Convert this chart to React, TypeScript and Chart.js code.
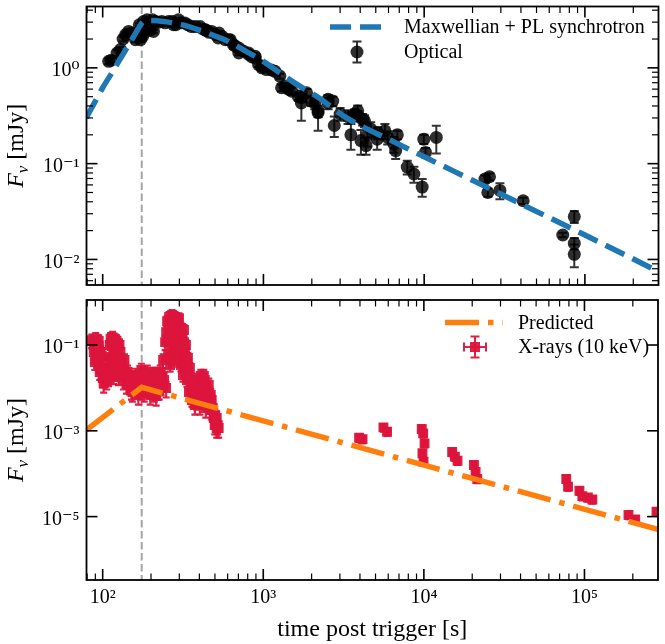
import React, { useEffect, useRef } from 'react';
import { Chart, registerables } from 'chart.js';
Chart.register(...registerables);

const FONT = "'Liberation Serif', 'DejaVu Serif', 'Times New Roman', serif";

// ---------- axes ----------
const X_MIN = 79.3;
const X_MAX = 2.87e5;
const X_MAJOR = [1e2, 1e3, 1e4, 1e5];
const TOP_Y_MIN = 5.41e-3;
const TOP_Y_MAX = 4.37;
const TOP_Y_MAJOR = [1e-2, 1e-1, 1e0];
const BOT_Y_MIN = 3.33e-7;
const BOT_Y_MAX = 1.12;
const BOT_Y_MAJOR = [1e-5, 1e-3, 1e-1];
const X_TITLE = 'time post trigger [s]';
const Y_TITLE_MAIN = 'F';
const Y_TITLE_SUB = 'ν';
const Y_TITLE_UNIT = ' [mJy]';
const VLINE_T = 175;

// ---------- top panel: model ----------
const MODEL_LABEL = 'Maxwellian + PL synchrotron';
const MODEL_T = [79, 90, 100, 117, 135, 150, 165, 180, 200, 250, 300, 400, 500, 600, 800, 1000, 1250, 1600, 2200, 3200, 4250, 6000, 10000, 20000, 40000, 100000, 200000, 300000];
const MODEL_F = [0.30, 0.45, 0.62, 0.95, 1.42, 1.9, 2.5, 3.05, 3.12, 3.02, 2.87, 2.48, 2.15, 1.9, 1.45, 1.17, 0.9, 0.68, 0.49, 0.31, 0.238, 0.18, 0.118, 0.067, 0.038, 0.018, 0.0101, 0.0072];

// ---------- top panel: optical ----------
const OPT_LABEL = 'Optical';
const OPT_T = [109, 113, 123, 129, 134, 139, 145, 152, 160, 166, 172, 169, 177, 180, 186, 189, 198, 204, 207, 212, 222, 233, 245, 257, 271, 276, 285, 296, 310, 325, 340, 358, 378, 403, 420, 436, 442, 460, 476, 500, 523, 529, 553, 580, 608, 621, 650, 670, 703, 703, 750, 809, 809, 850, 888, 888, 933, 978, 978, 1045, 1120, 1180, 1264, 1297, 1360, 1430, 1500, 1650, 1722, 1722, 1855, 1985, 2085, 2188, 2188, 2525, 2525, 2700, 2760, 3000, 3360, 3500, 3700, 3860, 3860, 4040, 4140, 4250, 4350, 4450, 4650, 5100, 5130, 5700, 5930, 6480, 6650, 6810, 7850, 8630, 9720, 9950, 10190, 11900, 23900, 25500, 24900, 29600, 41300, 72800, 85900, 85900, 85900];
const OPT_F = [1.17, 1.2, 1.43, 1.55, 2.0, 2.22, 2.4, 2.31, 1.97, 2.1, 1.97, 2.82, 2.13, 3.05, 2.4, 3.18, 2.5, 3.18, 2.4, 3.05, 3.0, 3.05, 2.95, 3.05, 3.05, 2.82, 2.82, 3.18, 2.95, 2.94, 2.8, 2.7, 2.7, 2.7, 2.55, 2.5, 2.45, 2.35, 2.4, 2.25, 2.05, 2.31, 2.13, 1.97, 1.97, 1.97, 1.75, 1.68, 1.61, 1.43, 1.5, 1.43, 1.38, 1.3, 1.32, 1.27, 1.08, 1.04, 1.0, 0.96, 0.95, 0.92, 0.82, 0.62, 0.645, 0.6, 0.57, 0.5, 0.43, 0.49, 0.55, 0.45, 0.43, 0.34, 0.355, 0.43, 0.47, 0.45, 0.25, 0.33, 0.31, 0.2, 0.33, 0.355, 0.315, 0.174, 0.29, 0.28, 0.154, 0.2, 0.23, 0.18, 0.21, 0.22, 0.188, 0.16, 0.137, 0.2, 0.092, 0.078, 0.057, 0.18, 0.131, 0.188, 0.069, 0.073, 0.05, 0.0525, 0.041, 0.018, 0.028, 0.0147, 0.0113];
const OPT_ERR = [0.08, 0.08, 0.1, 0.1, 0.12, 0.12, 0.12, 0.12, 0.12, 0.12, 0.12, 0.1, 0.1, 0.1, 0.1, 0.1, 0.1, 0.1, 0.1, 0.1, 0.1, 0.1, 0.1, 0.1, 0.1, 0.1, 0.1, 0.1, 0.1, 0.1, 0.1, 0.1, 0.1, 0.1, 0.1, 0.1, 0.1, 0.1, 0.1, 0.1, 0.1, 0.1, 0.1, 0.1, 0.1, 0.1, 0.1, 0.1, 0.08, 0.08, 0.08, 0.08, 0.08, 0.08, 0.08, 0.08, 0.06, 0.06, 0.06, 0.05, 0.05, 0.05, 0.05, 0.05, 0.05, 0.05, 0.05, 0.04, 0.15, 0.04, 0.05, 0.05, 0.06, 0.12, 0.05, 0.06, 0.05, 0.05, 0.06, 0.05, 0.05, 0.06, 0.04, 0.05, 0.04, 0.05, 0.04, 0.04, 0.03, 0.05, 0.04, 0.04, 0.03, 0.04, 0.03, 0.03, 0.025, 0.02, 0.015, 0.015, 0.012, 0.02, 0.015, 0.06, 0.006, 0.006, 0.005, 0.01, 0.003, 0.001, 0.004, 0.002, 0.003];

// ---------- bottom panel: predicted ----------
const PRED_LABEL = 'Predicted';
const PRED_T = [79, 175, 3680, 300000];
const PRED_F = [1.04e-3, 0.0103, 4.45e-4, 4.8e-6];

// ---------- bottom panel: X-rays (WT light curve, 85-530 s) ----------
const XRAY_LABEL = 'X-rays (10 keV)';
const XRAY_WT_T = [85.5, 88.0, 90.5, 91.8, 94.5, 95.8, 97.2, 100, 101.4, 104.4, 105.9, 108.9, 110.5, 112.0, 115.3, 116.9, 120.3, 122.0, 123.8, 127.3, 129.1, 131.0, 134.8, 136.7, 140.6, 144.7, 146.8, 151.0, 155.4, 159.9, 162.2, 166.8, 169.2, 174.1, 176.6, 181.6, 184.3, 189.5, 195.0, 197.8, 203.5, 209.4, 212.4, 218.5, 224.8, 228.0, 234.6, 237.9, 244.8, 248.4, 251.9, 259.2, 262.9, 270.5, 274.4, 282.3, 286.4, 294.5, 298.8, 307.4, 311.8, 320.8, 325.4, 334.8, 339.6, 349.4, 354.4, 364.6, 375.1, 380.5, 391.4, 397.1, 408.5, 414.4, 426.4, 432.5, 444.9, 457.8, 464.2, 477.5, 491.5, 498.4, 512.9,
  89.3, 91.8, 95.8, 98.6, 101.4, 104.4, 107.4, 108.9, 88.0, 90.5, 93.1, 94.5, 97.2,
  113.6, 115.3, 118.6, 120.3, 123.8, 125.5, 129.1, 132.9, 136.7, 138.7, 125.5, 116.9,
  142.7, 148.9, 153.2, 157.6, 164.4, 171.7, 179.1, 186.9, 192.3, 200.7, 206.5, 215.4, 221.6, 231.3, 241.4, 248.4,
  251.9, 255.6, 259.2, 262.9, 266.7, 270.5, 274.4, 278.3, 282.3, 286.4, 290.4, 294.5, 298.8, 303.1, 307.4, 311.8, 316.2, 320.8, 325.4, 330.0, 334.8, 339.6, 344.4, 349.4, 354.4, 359.4, 364.6, 369.8,
  385.9, 397.1, 402.8, 414.4, 420.3, 432.5, 438.5, 451.2, 457.8, 470.9, 477.5, 484.4, 498.4, 505.5, 512.9, 520.0, 527.6];
const XRAY_WT_F = [0.13, 0.1, 0.14, 0.0687, 0.125, 0.0447, 0.0261, 0.017, 0.013, 0.0235, 0.0153, 0.0447, 0.1, 0.14, 0.15, 0.0765, 0.13, 0.125, 0.0585, 0.1, 0.0402, 0.0235, 0.0153, 0.02, 0.0123, 0.0179, 0.0117, 0.00893, 0.0153, 0.02, 0.00995, 0.00683, 0.0153, 0.0261, 0.0111, 0.00802, 0.017, 0.0235, 0.00995, 0.00683, 0.0153, 0.00802, 0.0211, 0.0123, 0.00893, 0.0235, 0.0189, 0.0447, 0.117, 0.2, 0.36, 0.45, 0.33, 0.5, 0.4, 0.45, 0.31, 0.38, 0.42, 0.25, 0.17, 0.117, 0.0687, 0.0402, 0.0235, 0.0153, 0.00893, 0.00582, 0.00399, 0.00647, 0.00893, 0.0153, 0.0189, 0.0111, 0.0189, 0.00893, 0.00582, 0.00421, 0.00582, 0.00305, 0.00199, 0.00137, 0.00116,
  0.0402, 0.0447, 0.0235, 0.0554, 0.0235, 0.017, 0.0261, 0.017, 0.0687, 0.0851, 0.0554, 0.0948, 0.0687,
  0.0948, 0.0447, 0.0261, 0.0554, 0.1, 0.0324, 0.0687, 0.0291, 0.0447, 0.0235, 0.0179, 0.0189,
  0.0235, 0.017, 0.00802, 0.0111, 0.017, 0.00893, 0.0153, 0.00995, 0.0153, 0.0111, 0.0211, 0.00647, 0.017, 0.0111, 0.0153, 0.00995,
  0.131, 0.0585, 0.249, 0.0342, 0.1, 0.224, 0.0498, 0.131, 0.277, 0.0765, 0.162, 0.0447, 0.224, 0.1, 0.0342, 0.0765, 0.02, 0.224, 0.0447, 0.1, 0.0153, 0.0498, 0.00802, 0.0291, 0.017, 0.00522, 0.0117, 0.00683,
  0.00522, 0.00802, 0.00399, 0.00582, 0.00995, 0.0153, 0.0034, 0.00802, 0.0117, 0.00683, 0.00522, 0.0034, 0.00233, 0.00179, 0.00199, 0.00137, 0.00116];
// relative 1-sigma errors of the WT points
const XRAY_WT_YERR = [0.35, 0.35, 0.35, 0.4, 0.35, 0.4, 0.4, 0.4, 0.4, 0.4, 0.4, 0.35, 0.35, 0.35, 0.35, 0.35, 0.35, 0.35, 0.35, 0.35, 0.4, 0.4, 0.4, 0.4, 0.4, 0.4, 0.4, 0.4, 0.4, 0.4, 0.4, 0.4, 0.4, 0.4, 0.4, 0.4, 0.4, 0.4, 0.4, 0.4, 0.4, 0.4, 0.4, 0.4, 0.4, 0.4, 0.4, 0.35, 0.35, 0.35, 0.3, 0.3, 0.3, 0.3, 0.3, 0.3, 0.3, 0.3, 0.3, 0.3, 0.35, 0.35, 0.35, 0.35, 0.4, 0.4, 0.4, 0.4, 0.4, 0.4, 0.4, 0.4, 0.4, 0.4, 0.4, 0.4, 0.4, 0.4, 0.4, 0.4, 0.4, 0.4, 0.4,
  0.35, 0.35, 0.35, 0.35, 0.35, 0.35, 0.35, 0.35, 0.35, 0.35, 0.35, 0.35, 0.35,
  0.35, 0.35, 0.35, 0.35, 0.35, 0.35, 0.35, 0.35, 0.35, 0.35, 0.35, 0.35,
  0.4, 0.4, 0.4, 0.4, 0.4, 0.4, 0.4, 0.4, 0.4, 0.4, 0.4, 0.4, 0.4, 0.4, 0.4, 0.4,
  0.3, 0.3, 0.3, 0.3, 0.3, 0.3, 0.3, 0.3, 0.3, 0.3, 0.3, 0.3, 0.3, 0.3, 0.3, 0.3, 0.3, 0.3, 0.3, 0.3, 0.3, 0.3, 0.3, 0.3, 0.3, 0.3, 0.3, 0.3,
  0.4, 0.4, 0.4, 0.4, 0.4, 0.4, 0.4, 0.4, 0.4, 0.4, 0.4, 0.4, 0.4, 0.4, 0.4, 0.4, 0.4];
const XRAY_WT_XERR = 0.015;

// ---------- bottom panel: X-rays (PC mode, > 3000 s) ----------
const XRAY_PC_T = [3950, 4150, 5600, 5900, 9700, 9900, 10100, 9800, 9950, 15000, 15600, 16200, 20500, 21000, 21500, 77000, 79000, 93000, 97000, 105000, 112000, 188000, 207000, 281000];
const XRAY_PC_F = [6.9e-4, 6.4e-4, 1.2e-3, 9.5e-4, 1.1e-3, 8.7e-4, 5.1e-4, 3.0e-4, 1.9e-4, 3.2e-4, 2.5e-4, 2.0e-4, 1.6e-4, 1.1e-4, 7.5e-5, 7.5e-5, 5.0e-5, 4.0e-5, 3.0e-5, 2.8e-5, 2.5e-5, 1.09e-5, 8.6e-6, 1.3e-5];
const XRAY_PC_YERR = [0.2, 0.2, 0.2, 0.2, 0.2, 0.2, 0.2, 0.2, 0.2, 0.2, 0.2, 0.2, 0.2, 0.2, 0.2, 0.2, 0.2, 0.2, 0.2, 0.2, 0.2, 0.2, 0.2, 0.2];
const XRAY_PC_XERR = 0.035;

// ---------- styles ----------
const BLUE = '#1f77b4';
const ORANGE = '#ff7f0e';
const CRIMSON = 'rgba(220,20,60,0.95)';
const BLACK_PT = 'rgba(0,0,0,0.82)';
const SUPS: Record<string, string> = { '-': '⁻', '0': '⁰', '1': '¹', '2': '²', '3': '³', '4': '⁴', '5': '⁵', '6': '⁶', '7': '⁷', '8': '⁸', '9': '⁹' };

function expLabel(v: number): string {
  const e = Math.round(Math.log10(v));
  return '10' + String(e).split('').map((c) => SUPS[c]).join('');
}

function logTickValues(min: number, max: number, minor: boolean) {
  const out: { v: number; major: boolean }[] = [];
  const d0 = Math.floor(Math.log10(min)) - 1;
  const d1 = Math.ceil(Math.log10(max)) + 1;
  for (let d = d0; d <= d1; d++) {
    for (let m = 1; m <= 9; m++) {
      if (m > 1 && !minor) break;
      const v = m * Math.pow(10, d);
      if (v >= min * 0.999 && v <= max * 1.001) out.push({ v, major: m === 1 });
    }
  }
  return out;
}

function makeFramePlugin(yMajor: number[], yMinor: boolean) {
  return {
    id: 'frameTicks',
    afterDatasetsDraw(chart: any) {
      const { ctx, chartArea: a, scales } = chart;
      const xs = scales.x;
      const ys = scales.y;
      ctx.save();
      ctx.strokeStyle = '#000';
      const seg = (x1: number, y1: number, x2: number, y2: number, w: number) => {
        ctx.lineWidth = w;
        ctx.beginPath();
        ctx.moveTo(x1, y1);
        ctx.lineTo(x2, y2);
        ctx.stroke();
      };
      for (const t of logTickValues(X_MIN, X_MAX, true)) {
        const major = X_MAJOR.some((m) => Math.abs(m - t.v) / m < 1e-6);
        const p = xs.getPixelForValue(t.v);
        const L = major ? 11 : 6.5;
        const w = major ? 1.6 : 1.2;
        seg(p, a.bottom, p, a.bottom - L, w);
        seg(p, a.top, p, a.top + L, w);
      }
      const yvals = yMinor ? logTickValues(ys.min, ys.max, true) : yMajor.map((v) => ({ v, major: true }));
      for (const t of yvals) {
        const major = yMajor.some((m) => Math.abs(m - t.v) / m < 1e-6);
        if (!major && !yMinor) continue;
        const p = ys.getPixelForValue(t.v);
        const L = major ? 11 : 6.5;
        const w = major ? 1.6 : 1.2;
        seg(a.left, p, a.left + L, p, w);
        seg(a.right, p, a.right - L, p, w);
      }
      ctx.lineWidth = 1.8;
      ctx.strokeRect(a.left, a.top, a.right - a.left, a.bottom - a.top);
      ctx.restore();
    },
  };
}

function makeVlinePlugin() {
  return {
    id: 'vline',
    beforeDatasetsDraw(chart: any) {
      const { ctx, chartArea: a, scales } = chart;
      const p = scales.x.getPixelForValue(VLINE_T);
      ctx.save();
      ctx.strokeStyle = 'rgba(128,128,128,0.7)';
      ctx.lineWidth = 2;
      ctx.setLineDash([7.5, 3.5]);
      ctx.beginPath();
      ctx.moveTo(p, a.top);
      ctx.lineTo(p, a.bottom);
      ctx.stroke();
      ctx.restore();
    },
  };
}

type ErrSet = { t: number[]; f: number[]; yerrAbs?: number[]; yerrRel?: number[]; xerrRel?: number; color: string; width: number; cap: number };

function makeErrorPlugin(sets: ErrSet[]) {
  return {
    id: 'errorBars',
    beforeDatasetsDraw(chart: any) {
      const { ctx, chartArea: a, scales } = chart;
      const xs = scales.x;
      const ys = scales.y;
      ctx.save();
      ctx.beginPath();
      ctx.rect(a.left, a.top, a.right - a.left, a.bottom - a.top);
      ctx.clip();
      for (const s of sets) {
        ctx.strokeStyle = s.color;
        ctx.lineWidth = s.width;
        for (let i = 0; i < s.t.length; i++) {
          const px = xs.getPixelForValue(s.t[i]);
          const py = ys.getPixelForValue(s.f[i]);
          let lo: number, hi: number;
          if (s.yerrAbs) {
            lo = Math.max(s.f[i] - s.yerrAbs[i], s.f[i] * 0.05);
            hi = s.f[i] + s.yerrAbs[i];
          } else {
            const r = s.yerrRel ? s.yerrRel[i] : 0;
            lo = s.f[i] * (1 - r);
            hi = s.f[i] * (1 + r);
          }
          const plo = ys.getPixelForValue(lo);
          const phi = ys.getPixelForValue(hi);
          ctx.beginPath();
          ctx.moveTo(px, plo);
          ctx.lineTo(px, phi);
          ctx.moveTo(px - s.cap, plo);
          ctx.lineTo(px + s.cap, plo);
          ctx.moveTo(px - s.cap, phi);
          ctx.lineTo(px + s.cap, phi);
          if (s.xerrRel) {
            const r = s.xerrRel;
            const pl = xs.getPixelForValue(s.t[i] * (1 - r));
            const pr = xs.getPixelForValue(s.t[i] * (1 + r));
            ctx.moveTo(pl, py);
            ctx.lineTo(pr, py);
            ctx.moveTo(pl, py - s.cap);
            ctx.lineTo(pl, py + s.cap);
            ctx.moveTo(pr, py - s.cap);
            ctx.lineTo(pr, py + s.cap);
          }
          ctx.stroke();
        }
      }
      ctx.restore();
    },
  };
}

function makeYTitlePlugin(dy: number) {
  return {
    id: 'yTitle',
    afterDraw(chart: any) {
      const { ctx, chartArea: a } = chart;
      const cy = (a.top + a.bottom) / 2 + dy;
      const bx = 23;
      ctx.save();
      ctx.fillStyle = '#000';
      ctx.textBaseline = 'alphabetic';
      const fMain = `italic 24px ${FONT}`;
      const fSub = `italic 17px ${FONT}`;
      const fUnit = `24px ${FONT}`;
      ctx.font = fMain;
      const w1 = ctx.measureText(Y_TITLE_MAIN).width;
      ctx.font = fSub;
      const w2 = ctx.measureText(Y_TITLE_SUB).width;
      ctx.font = fUnit;
      const w3 = ctx.measureText(Y_TITLE_UNIT).width;
      const total = w1 + w2 + w3;
      ctx.translate(bx, cy);
      ctx.rotate(-Math.PI / 2);
      let x = -total / 2;
      ctx.font = fMain;
      ctx.fillText(Y_TITLE_MAIN, x, 0);
      x += w1;
      ctx.font = fSub;
      ctx.fillText(Y_TITLE_SUB, x, 5);
      x += w2;
      ctx.font = fUnit;
      ctx.fillText(Y_TITLE_UNIT, x, 0);
      ctx.restore();
    },
  };
}

type LegendItem = { kind: 'line' | 'circle' | 'square'; ds: number; x0: number; x1: number; y: number };

function makeLegendPlugin(items: LegendItem[], textX: number) {
  return {
    id: 'customLegend',
    afterDraw(chart: any) {
      const { ctx } = chart;
      ctx.save();
      for (const it of items) {
        const ds = chart.data.datasets[it.ds];
        if (it.kind === 'line') {
          ctx.strokeStyle = ds.borderColor;
          ctx.lineWidth = ds.borderWidth;
          ctx.setLineDash(ds.borderDash || []);
          ctx.beginPath();
          ctx.moveTo(it.x0, it.y);
          ctx.lineTo(it.x1, it.y);
          ctx.stroke();
          ctx.setLineDash([]);
        } else {
          const cx = (it.x0 + it.x1) / 2;
          ctx.strokeStyle = ds.backgroundColor;
          ctx.fillStyle = ds.backgroundColor;
          ctx.lineWidth = 2;
          ctx.beginPath();
          ctx.moveTo(cx, it.y - 10.5);
          ctx.lineTo(cx, it.y + 10.5);
          ctx.moveTo(cx - 4.5, it.y - 10.5);
          ctx.lineTo(cx + 4.5, it.y - 10.5);
          ctx.moveTo(cx - 4.5, it.y + 10.5);
          ctx.lineTo(cx + 4.5, it.y + 10.5);
          if (it.kind === 'square') {
            ctx.moveTo(cx - 11, it.y);
            ctx.lineTo(cx + 11, it.y);
            ctx.moveTo(cx - 11, it.y - 4.5);
            ctx.lineTo(cx - 11, it.y + 4.5);
            ctx.moveTo(cx + 11, it.y - 4.5);
            ctx.lineTo(cx + 11, it.y + 4.5);
          }
          ctx.stroke();
          ctx.beginPath();
          if (it.kind === 'circle') {
            ctx.arc(cx, it.y, 6.5, 0, Math.PI * 2);
          } else {
            ctx.rect(cx - 5, it.y - 5, 10, 10);
          }
          ctx.fill();
        }
        ctx.fillStyle = '#000';
        ctx.font = `20px ${FONT}`;
        ctx.textBaseline = 'middle';
        ctx.textAlign = 'left';
        ctx.fillText(ds.label, textX, it.y + 1);
      }
      ctx.restore();
    },
  };
}

function yAxis(min: number, max: number, majors: number[]) {
  return {
    type: 'logarithmic',
    position: 'left',
    min,
    max,
    afterBuildTicks: (s: any) => {
      s.ticks = majors.map((v) => ({ value: v }));
    },
    afterFit: (s: any) => {
      s.width = 86.5;
      s.paddingTop = 0;
      s.paddingBottom = 0;
    },
    grid: { display: false, drawTicks: false },
    border: { display: false },
    ticks: {
      callback: (v: any) => expLabel(Number(v)),
      font: { family: FONT, size: 20 },
      color: '#000',
      padding: 7,
      labelOffset: 3,
      autoSkip: false,
    },
  };
}

export default function App() {
  const topRef = useRef<HTMLCanvasElement>(null);
  const botRef = useRef<HTMLCanvasElement>(null);

  useEffect(() => {
    const topChart = new Chart(topRef.current as HTMLCanvasElement, {
      type: 'scatter',
      data: {
        datasets: [
          {
            type: 'line',
            label: MODEL_LABEL,
            data: MODEL_T.map((t, i) => ({ x: t, y: MODEL_F[i] })),
            borderColor: BLUE,
            borderWidth: 5.5,
            borderDash: [21, 9],
            pointRadius: 0,
            cubicInterpolationMode: 'monotone',
            fill: false,
            clip: 0,
          } as any,
          {
            type: 'scatter',
            label: OPT_LABEL,
            data: OPT_T.map((t, i) => ({ x: t, y: OPT_F[i] })),
            backgroundColor: BLACK_PT,
            borderWidth: 0,
            pointRadius: 6.5,
            pointHoverRadius: 6.5,
            clip: 0,
          } as any,
        ],
      },
      options: {
        animation: false,
        responsive: false,
        devicePixelRatio: 1,
        events: [],
        layout: { padding: { left: 0, right: 2, top: 5, bottom: 7 } },
        plugins: { legend: { display: false }, tooltip: { enabled: false } },
        scales: {
          x: { type: 'logarithmic', min: X_MIN, max: X_MAX, display: false },
          y: yAxis(TOP_Y_MIN, TOP_Y_MAX, TOP_Y_MAJOR) as any,
        },
      },
      plugins: [
        makeVlinePlugin(),
        makeErrorPlugin([{ t: OPT_T, f: OPT_F, yerrAbs: OPT_ERR, color: 'rgba(0,0,0,0.8)', width: 2, cap: 4.5 }]),
        makeFramePlugin(TOP_Y_MAJOR, true),
        makeYTitlePlugin(0),
        makeLegendPlugin(
          [
            { kind: 'line', ds: 0, x0: 330, x1: 382, y: 27 },
            { kind: 'circle', ds: 1, x0: 330, x1: 384, y: 52 },
          ],
          404
        ),
      ] as any,
    } as any);

    const xrayT = XRAY_WT_T.concat(XRAY_PC_T);
    const xrayF = XRAY_WT_F.concat(XRAY_PC_F);

    const botChart = new Chart(botRef.current as HTMLCanvasElement, {
      type: 'scatter',
      data: {
        datasets: [
          {
            type: 'line',
            label: PRED_LABEL,
            data: PRED_T.map((t, i) => ({ x: t, y: PRED_F[i] })),
            borderColor: ORANGE,
            borderWidth: 5.5,
            borderDash: [34, 9, 5.5, 9],
            pointRadius: 0,
            tension: 0,
            fill: false,
            clip: 0,
          } as any,
          {
            type: 'scatter',
            label: XRAY_LABEL,
            data: xrayT.map((t, i) => ({ x: t, y: xrayF[i] })),
            backgroundColor: CRIMSON,
            borderWidth: 0,
            pointStyle: 'rect',
            pointRadius: 7,
            pointHoverRadius: 7,
            clip: 0,
          } as any,
        ],
      },
      options: {
        animation: false,
        responsive: false,
        devicePixelRatio: 1,
        events: [],
        layout: { padding: { left: 0, right: 2, top: 8, bottom: 0 } },
        plugins: { legend: { display: false }, tooltip: { enabled: false } },
        scales: {
          x: {
            type: 'logarithmic',
            position: 'bottom',
            min: X_MIN,
            max: X_MAX,
            afterBuildTicks: (s: any) => {
              s.ticks = X_MAJOR.map((v) => ({ value: v }));
            },
            afterFit: (s: any) => {
              s.height = 64;
              s.paddingLeft = 0;
              s.paddingRight = 0;
            },
            grid: { display: false, drawTicks: false },
            border: { display: false },
            ticks: {
              callback: (v: any) => expLabel(Number(v)),
              font: { family: FONT, size: 20 },
              color: '#000',
              padding: 6,
              maxRotation: 0,
              autoSkip: false,
            },
            title: {
              display: true,
              text: X_TITLE,
              font: { family: FONT, size: 24 },
              color: '#000',
              padding: { top: 0, bottom: 0 },
            },
          } as any,
          y: yAxis(BOT_Y_MIN, BOT_Y_MAX, BOT_Y_MAJOR) as any,
        },
      },
      plugins: [
        makeVlinePlugin(),
        makeErrorPlugin([
          { t: XRAY_WT_T, f: XRAY_WT_F, yerrRel: XRAY_WT_YERR, xerrRel: XRAY_WT_XERR, color: CRIMSON, width: 2.2, cap: 3.5 },
          { t: XRAY_PC_T, f: XRAY_PC_F, yerrRel: XRAY_PC_YERR, xerrRel: XRAY_PC_XERR, color: CRIMSON, width: 2.2, cap: 3.5 },
        ]),
        makeFramePlugin(BOT_Y_MAJOR, false),
        makeYTitlePlugin(0),
        makeLegendPlugin(
          [
            { kind: 'line', ds: 0, x0: 445, x1: 503, y: 30.5 },
            { kind: 'square', ds: 1, x0: 445, x1: 505, y: 55 },
          ],
          518
        ),
      ] as any,
    } as any);

    return () => {
      topChart.destroy();
      botChart.destroy();
    };
  }, []);

  return (
    <div style={{ position: 'absolute', left: 0, top: 0, width: 665, height: 644, background: '#fff' }}>
      <canvas ref={topRef} width={665} height={292} style={{ position: 'absolute', left: 0, top: 0, width: 665, height: 292 }} />
      <canvas ref={botRef} width={665} height={352} style={{ position: 'absolute', left: 0, top: 292, width: 665, height: 352 }} />
    </div>
  );
}
